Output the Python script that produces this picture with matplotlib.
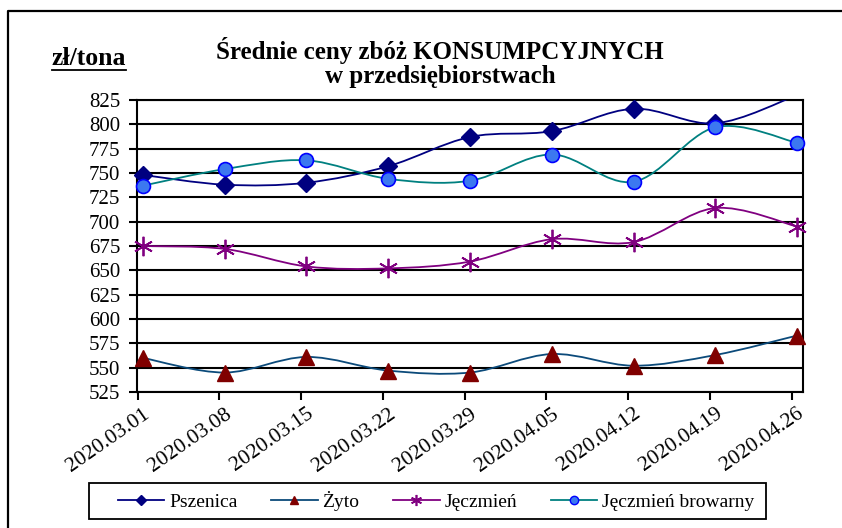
import matplotlib
matplotlib.use("Agg")
import matplotlib.pyplot as plt
import matplotlib.transforms as mtransforms
import numpy as np
from matplotlib.path import Path
from matplotlib.patches import PathPatch, Rectangle
from matplotlib.lines import Line2D

plt.rcParams["font.family"] = ["Liberation Serif", "DejaVu Serif"]

# --- DATEN ---
daty = ["2020.03.01", "2020.03.08", "2020.03.15", "2020.03.22", "2020.03.29",
        "2020.04.05", "2020.04.12", "2020.04.19", "2020.04.26"]
pszenica = [748, 738, 740, 757, 787, 793, 816, 801, 830]
zyto = [560, 545, 561, 547, 545, 564, 552, 563, 583]
jeczmien = [675, 672, 654, 652, 659, 682, 679, 714, 695]
jeczmien_browarny = [737, 754, 763, 744, 742, 769, 741, 797, 781]

nazwy = ["Pszenica", "Żyto", "Jęczmień", "Jęczmień browarny"]
y_ticks = list(range(525, 826, 25))
Y_MIN, Y_MAX = 525, 825


def gladka_linia(ax, xs, ys, color, lw=1.3):
    # Bezier-Glättung wie in Excel (Catmull-Rom, Spannung 1/6)
    n = len(xs)
    verts = [(xs[0], ys[0])]
    codes = [Path.MOVETO]
    for i in range(n - 1):
        x0, y0 = (xs[i - 1], ys[i - 1]) if i > 0 else (xs[i], ys[i])
        x1, y1 = xs[i], ys[i]
        x2, y2 = xs[i + 1], ys[i + 1]
        x3, y3 = (xs[i + 2], ys[i + 2]) if i + 2 < n else (x2, y2)
        c1 = (x1 + (x2 - x0) / 6, y1 + (y2 - y0) / 6)
        c2 = (x2 - (x3 - x1) / 6, y2 - (y3 - y1) / 6)
        verts += [c1, c2, (x2, y2)]
        codes += [Path.CURVE4] * 3
    patch = PathPatch(Path(verts, codes), facecolor="none", edgecolor=color, lw=lw, zorder=3)
    ax.add_patch(patch)


fig = plt.figure(figsize=(8.42, 5.28), dpi=100)
W, H = 842, 528
ax = fig.add_axes([137 / W, 1 - 392 / H, (803 - 137) / W, (392 - 100) / H])

x = list(range(len(daty)))

styl = [
    (pszenica, "#000080", dict(marker="D", ms=9.5, mfc="#000080", mec="#000080")),
    (zyto, "#0B4A7A", dict(marker="^", ms=11, mfc="#800000", mec="#800000")),
    (jeczmien, "#800080", dict(marker=(6, 2, 0), ms=14, mfc="#800080", mec="#800080", mew=1.3)),
    (jeczmien_browarny, "#008080", dict(marker="o", ms=10, mfc="#3C78F0", mec="#0000FF", mew=1.2)),
]

for vals, kolor, m in styl:
    gladka_linia(ax, x, vals, kolor)
    v = np.ma.masked_outside(np.array(vals, dtype=float), Y_MIN, Y_MAX)
    ax.plot(x, v, ls="none", zorder=4, clip_on=False, **m)

ax.set_xlim(-0.073, 8.073)
ax.set_ylim(Y_MIN, Y_MAX)
ax.set_yticks(y_ticks)
ax.yaxis.grid(True, color="black", lw=1.5)
ax.set_axisbelow(True)
for s in ax.spines.values():
    s.set_linewidth(1.5)
    s.set_color("black")

tick_pos = [i - 0.065 for i in x]
ax.set_xticks(tick_pos)
ax.set_xticklabels(daty, rotation=35, ha="right", va="top", rotation_mode="anchor", fontsize=15.5)
ax.tick_params(axis="x", direction="out", length=6, width=1.5, pad=3)
ax.tick_params(axis="y", direction="out", length=6, width=1.5, labelsize=15, pad=6)
przesun = mtransforms.ScaledTranslation(5 / 100, 0, fig.dpi_scale_trans)
for lbl in ax.get_xticklabels():
    lbl.set_transform(lbl.get_transform() + przesun)

# Titel
fig.text(440 / W, 1 - 50 / H, "Średnie ceny zbóż KONSUMPCYJNYCH", ha="center", va="center",
         fontsize=18, fontweight="bold")
fig.text(440 / W, 1 - 77 / H, "w przedsiębiorstwach", ha="center", va="center",
         fontsize=18, fontweight="bold")

# Einheit, unterstrichen
fig.text(52 / W, 1 - 65 / H, "zł/tona", ha="left", va="baseline", fontsize=18.5, fontweight="bold")
fig.add_artist(Line2D([52 / W, 126 / W], [1 - 70 / H, 1 - 70 / H], color="black", lw=1.3,
                      transform=fig.transFigure))

# Rahmen des Diagramms
fig.add_artist(Line2D([8 / W, 8 / W, 1.0], [0.0, 1 - 11 / H, 1 - 11 / H], color="black", lw=1.6,
                      transform=fig.transFigure))

# Legende
uchwyty = [
    Line2D([], [], color="#000080", marker="D", ms=5, mfc="#000080", mec="#000080", lw=1.3),
    Line2D([], [], color="#0B4A7A", marker="^", ms=6, mfc="#800000", mec="#800000", lw=1.3),
    Line2D([], [], color="#800080", marker=(6, 2, 0), ms=8, mec="#800080", mew=1.2, lw=1.3),
    Line2D([], [], color="#008080", marker="o", ms=6, mfc="#3C78F0", mec="#0000FF", lw=1.3),
]
fig.legend(uchwyty, nazwy, loc="center", ncol=4,
           bbox_to_anchor=(436 / W, 1 - 501 / H),
           fontsize=14, frameon=False, handlelength=2.4,
           handletextpad=0.25, borderaxespad=0, columnspacing=1.72)
fig.add_artist(Rectangle((89 / W, 1 - 519 / H), (766 - 89) / W, 36 / H, fill=False,
                         edgecolor="black", lw=1.3, transform=fig.transFigure))

fig.savefig("out.png", dpi=100)
